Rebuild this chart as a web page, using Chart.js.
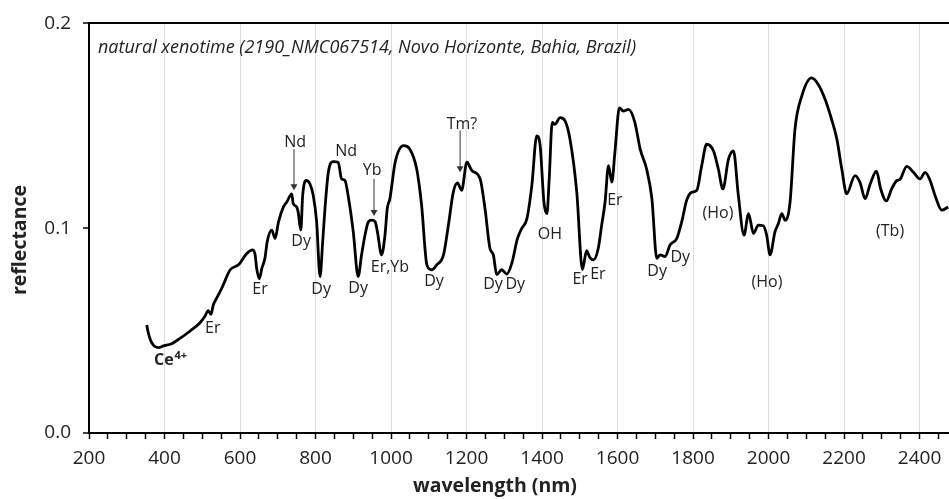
<!DOCTYPE html>
<html>
<head>
<meta charset="utf-8">
<script src="https://cdn.jsdelivr.net/npm/chart.js@4/dist/chart.umd.min.js"></script>
<style>
  html, body { margin: 0; padding: 0; background: #fff; overflow: hidden; }
  #wrap { width: 949px; height: 499px; position: relative; }
</style>
</head>
<body>
<div id="wrap"><canvas id="spectrum"></canvas></div>
<script>
// Spectrum
const wavelength = [353,357,366,384,397,419,441,468,494,507,
  516,523,529,536,552,574,596,618,634,640,
  644,651,658,666,672,684,693,702,715,724,
  737,741,750,754,761,766,775,785,794,803,
  812,819,825,834,847,860,869,878,887,900,
  913,922,931,940,949,958,964,975,984,990,
  997,1011,1033,1050,1068,1081,1095,1108,1121,1139,
  1152,1165,1176,1187,1201,1214,1236,1249,1262,1271,
  1280,1293,1307,1320,1335,1346,1360,1373,1386,1395,
  1405,1413,1419,1427,1434,1448,1461,1474,1492,1507,
  1518,1527,1536,1549,1558,1567,1576,1585,1593,1605,
  1615,1629,1646,1660,1677,1691,1704,1713,1726,1739,
  1757,1770,1783,1797,1810,1823,1836,1854,1867,1879,
  1894,1907,1920,1935,1947,1960,1973,1986,1995,2004,
  2017,2026,2035,2044,2057,2070,2088,2114,2132,2150,
  2167,2181,2194,2207,2229,2242,2256,2269,2286,2297,
  2312,2326,2340,2348,2366,2384,2401,2415,2428,2441,
  2459,2476];
const reflectance = [.0527,.0490,.0441,.0417,.0425,.0436,.0462,.0498,.0538,.0570,
  .0598,.0579,.0624,.0651,.0708,.0797,.0821,.0877,.0894,.0870,
  .0805,.0753,.0805,.0853,.0934,.0991,.0950,.1031,.1104,.1128,
  .1168,.1120,.1104,.1079,.0991,.1160,.1233,.1217,.1160,.1031,
  .0764,.0934,.1095,.1273,.1325,.1322,.1241,.1233,.1152,.0982,
  .0764,.0870,.0966,.1031,.1039,.1031,.0982,.0870,.0966,.1095,
  .1144,.1322,.1403,.1386,.1289,.1112,.0821,.0797,.0821,.0870,
  .1015,.1176,.1221,.1185,.1322,.1282,.1241,.1095,.0902,.0870,
  .0773,.0797,.0776,.0829,.0950,.0998,.1047,.1209,.1451,.1403,
  .1128,.1071,.1241,.1516,.1507,.1540,.1524,.1435,.1176,.0798,
  .0890,.0856,.0845,.0902,.1015,.1128,.1306,.1225,.1370,.1588,
  .1572,.1580,.1516,.1386,.1289,.1144,.0853,.0870,.0861,.0918,
  .0950,.1031,.1136,.1176,.1185,.1306,.1410,.1378,.1289,.1192,
  .1338,.1378,.1160,.0966,.1071,.0974,.1015,.1012,.0966,.0870,
  .0982,.1023,.1071,.1039,.1128,.1483,.1645,.1734,.1701,.1629,
  .1532,.1435,.1289,.1168,.1257,.1225,.1144,.1215,.1278,.1192,
  .1133,.1192,.1233,.1238,.1302,.1273,.1241,.1273,.1233,.1160,
  .1088,.1104];

// Band assignments: text, wavelength, reflectance where the label sits
const noteText = ['Er','Er','Dy','Nd','Dy','Nd','Dy','Yb','Er,Yb','Dy','Tm?','Dy','Dy','OH','Er','Er','Er','Dy','Dy','(Ho)','(Ho)','(Tb)'];
const noteNm   = [528,653,762,746,815,881,913,950,997,1114,1188,1270,1329,1421,1501,1548,1593,1705,1766,1866,1996,2322];
const noteRefl = [.0512,.0701,.0934,.1419,.0701,.1375,.0706,.1283,.0808,.0740,.1506,.0726,.0726,.0968,.0750,.0774,.1138,.0789,.0856,.1070,.0735,.0982];

// arrows from label down to the feature
const arrowNm   = [743,955,1183];
const arrowFrom = [.1386,.1241,.1477];
const arrowTo   = [.1185,.1060,.1273];

const ceNm = 372, ceRefl = .0352;

const sampleTitle = 'natural xenotime (2190_NMC067514, Novo Horizonte, Bahia, Brazil)';
const xTitle = 'wavelength (nm)';
const yTitle = 'reflectance';

const FONT = '"Open Sans", "DejaVu Sans", sans-serif';

const notesPlugin = {
  id: 'notes',
  afterDatasetsDraw(chart) {
    const ctx = chart.ctx;
    const xs = chart.scales.x, ys = chart.scales.y;
    ctx.save();
    ctx.fillStyle = '#222';
    ctx.textAlign = 'center';
    ctx.textBaseline = 'middle';
    ctx.font = '16px ' + FONT;
    noteText.forEach((t, i) => {
      ctx.fillText(t, xs.getPixelForValue(noteNm[i]), ys.getPixelForValue(noteRefl[i]));
    });

    // Ce4+ with superscript
    const cx = xs.getPixelForValue(ceNm), cy = ys.getPixelForValue(ceRefl);
    ctx.textAlign = 'left';
    ctx.font = 'bold 16px ' + FONT;
    ctx.fillText('Ce', cx, cy);
    const w = ctx.measureText('Ce').width;
    ctx.font = 'bold 11px ' + FONT;
    ctx.fillText('4+', cx + w + 1, cy - 5);

    // arrows
    ctx.strokeStyle = '#333';
    ctx.fillStyle = '#333';
    ctx.lineWidth = 1;
    arrowNm.forEach((nm, i) => {
      const ax = xs.getPixelForValue(nm);
      const y0 = ys.getPixelForValue(arrowFrom[i]);
      const y1 = ys.getPixelForValue(arrowTo[i]);
      ctx.beginPath();
      ctx.moveTo(ax, y0);
      ctx.lineTo(ax, y1 - 4);
      ctx.stroke();
      ctx.beginPath();
      ctx.moveTo(ax - 3.5, y1 - 6);
      ctx.lineTo(ax + 3.5, y1 - 6);
      ctx.lineTo(ax, y1);
      ctx.closePath();
      ctx.fill();
    });

    // sample title
    ctx.fillStyle = '#222';
    ctx.textAlign = 'left';
    ctx.font = 'italic 18px ' + FONT;
    ctx.fillText(sampleTitle, 98, 48);

    // axis titles
    ctx.font = 'bold 19.5px ' + FONT;
    ctx.textAlign = 'center';
    ctx.fillText(xTitle, 495, 486);
    ctx.translate(20, 240);
    ctx.rotate(-Math.PI / 2);
    ctx.fillText(yTitle, 0, 0);
    ctx.restore();
  }
};

const ctx = document.getElementById('spectrum').getContext('2d');
const chart = new Chart(ctx, {
  type: 'line',
  data: {
    datasets: [{
      data: wavelength.map((w, i) => ({ x: w, y: reflectance[i] })),
      borderColor: '#000',
      borderWidth: 2.8,
      pointRadius: 0,
      fill: false,
      cubicInterpolationMode: 'monotone'
    }]
  },
  options: {
    responsive: true,
    maintainAspectRatio: false,
    animation: false,
    devicePixelRatio: 1,
    layout: { padding: { top: 18, right: 0, left: 0, bottom: 0 } },
    plugins: { legend: { display: false }, tooltip: { enabled: false } },
    scales: {
      x: {
        type: 'linear',
        min: 200,
        max: 2478,
        afterFit: (s) => { s.height = 66; },
        border: { color: '#000', width: 2 },
        grid: {
          color: (c) => (c.tick && c.tick.value % 200 === 0 && c.tick.value > 200) ? '#dedede' : 'rgba(0,0,0,0)',
          lineWidth: 1,
          tickColor: '#000',
          tickLength: 6,
          tickWidth: 1.5
        },
        ticks: {
          stepSize: 50,
          autoSkip: false,
          includeBounds: false,
          maxRotation: 0,
          padding: 8,
          color: '#222',
          font: { family: FONT, size: 19 },
          callback: (v) => (v % 200 === 0 ? v : '')
        }
      },
      y: {
        min: 0,
        max: 0.2,
        afterFit: (s) => { s.width = 89; },
        border: { color: '#000', width: 2 },
        grid: {
          color: (c) => (c.tick && Math.abs(c.tick.value - 0.2) < 1e-6) ? '#000' : 'rgba(0,0,0,0)',
          lineWidth: 2,
          tickColor: '#000',
          tickLength: 6,
          tickWidth: 1.5
        },
        ticks: {
          stepSize: 0.1,
          padding: 12,
          color: '#222',
          font: { family: FONT, size: 19 },
          callback: (v) => v.toFixed(1)
        }
      }
    }
  },
  plugins: [notesPlugin]
});
</script>
</body>
</html>
